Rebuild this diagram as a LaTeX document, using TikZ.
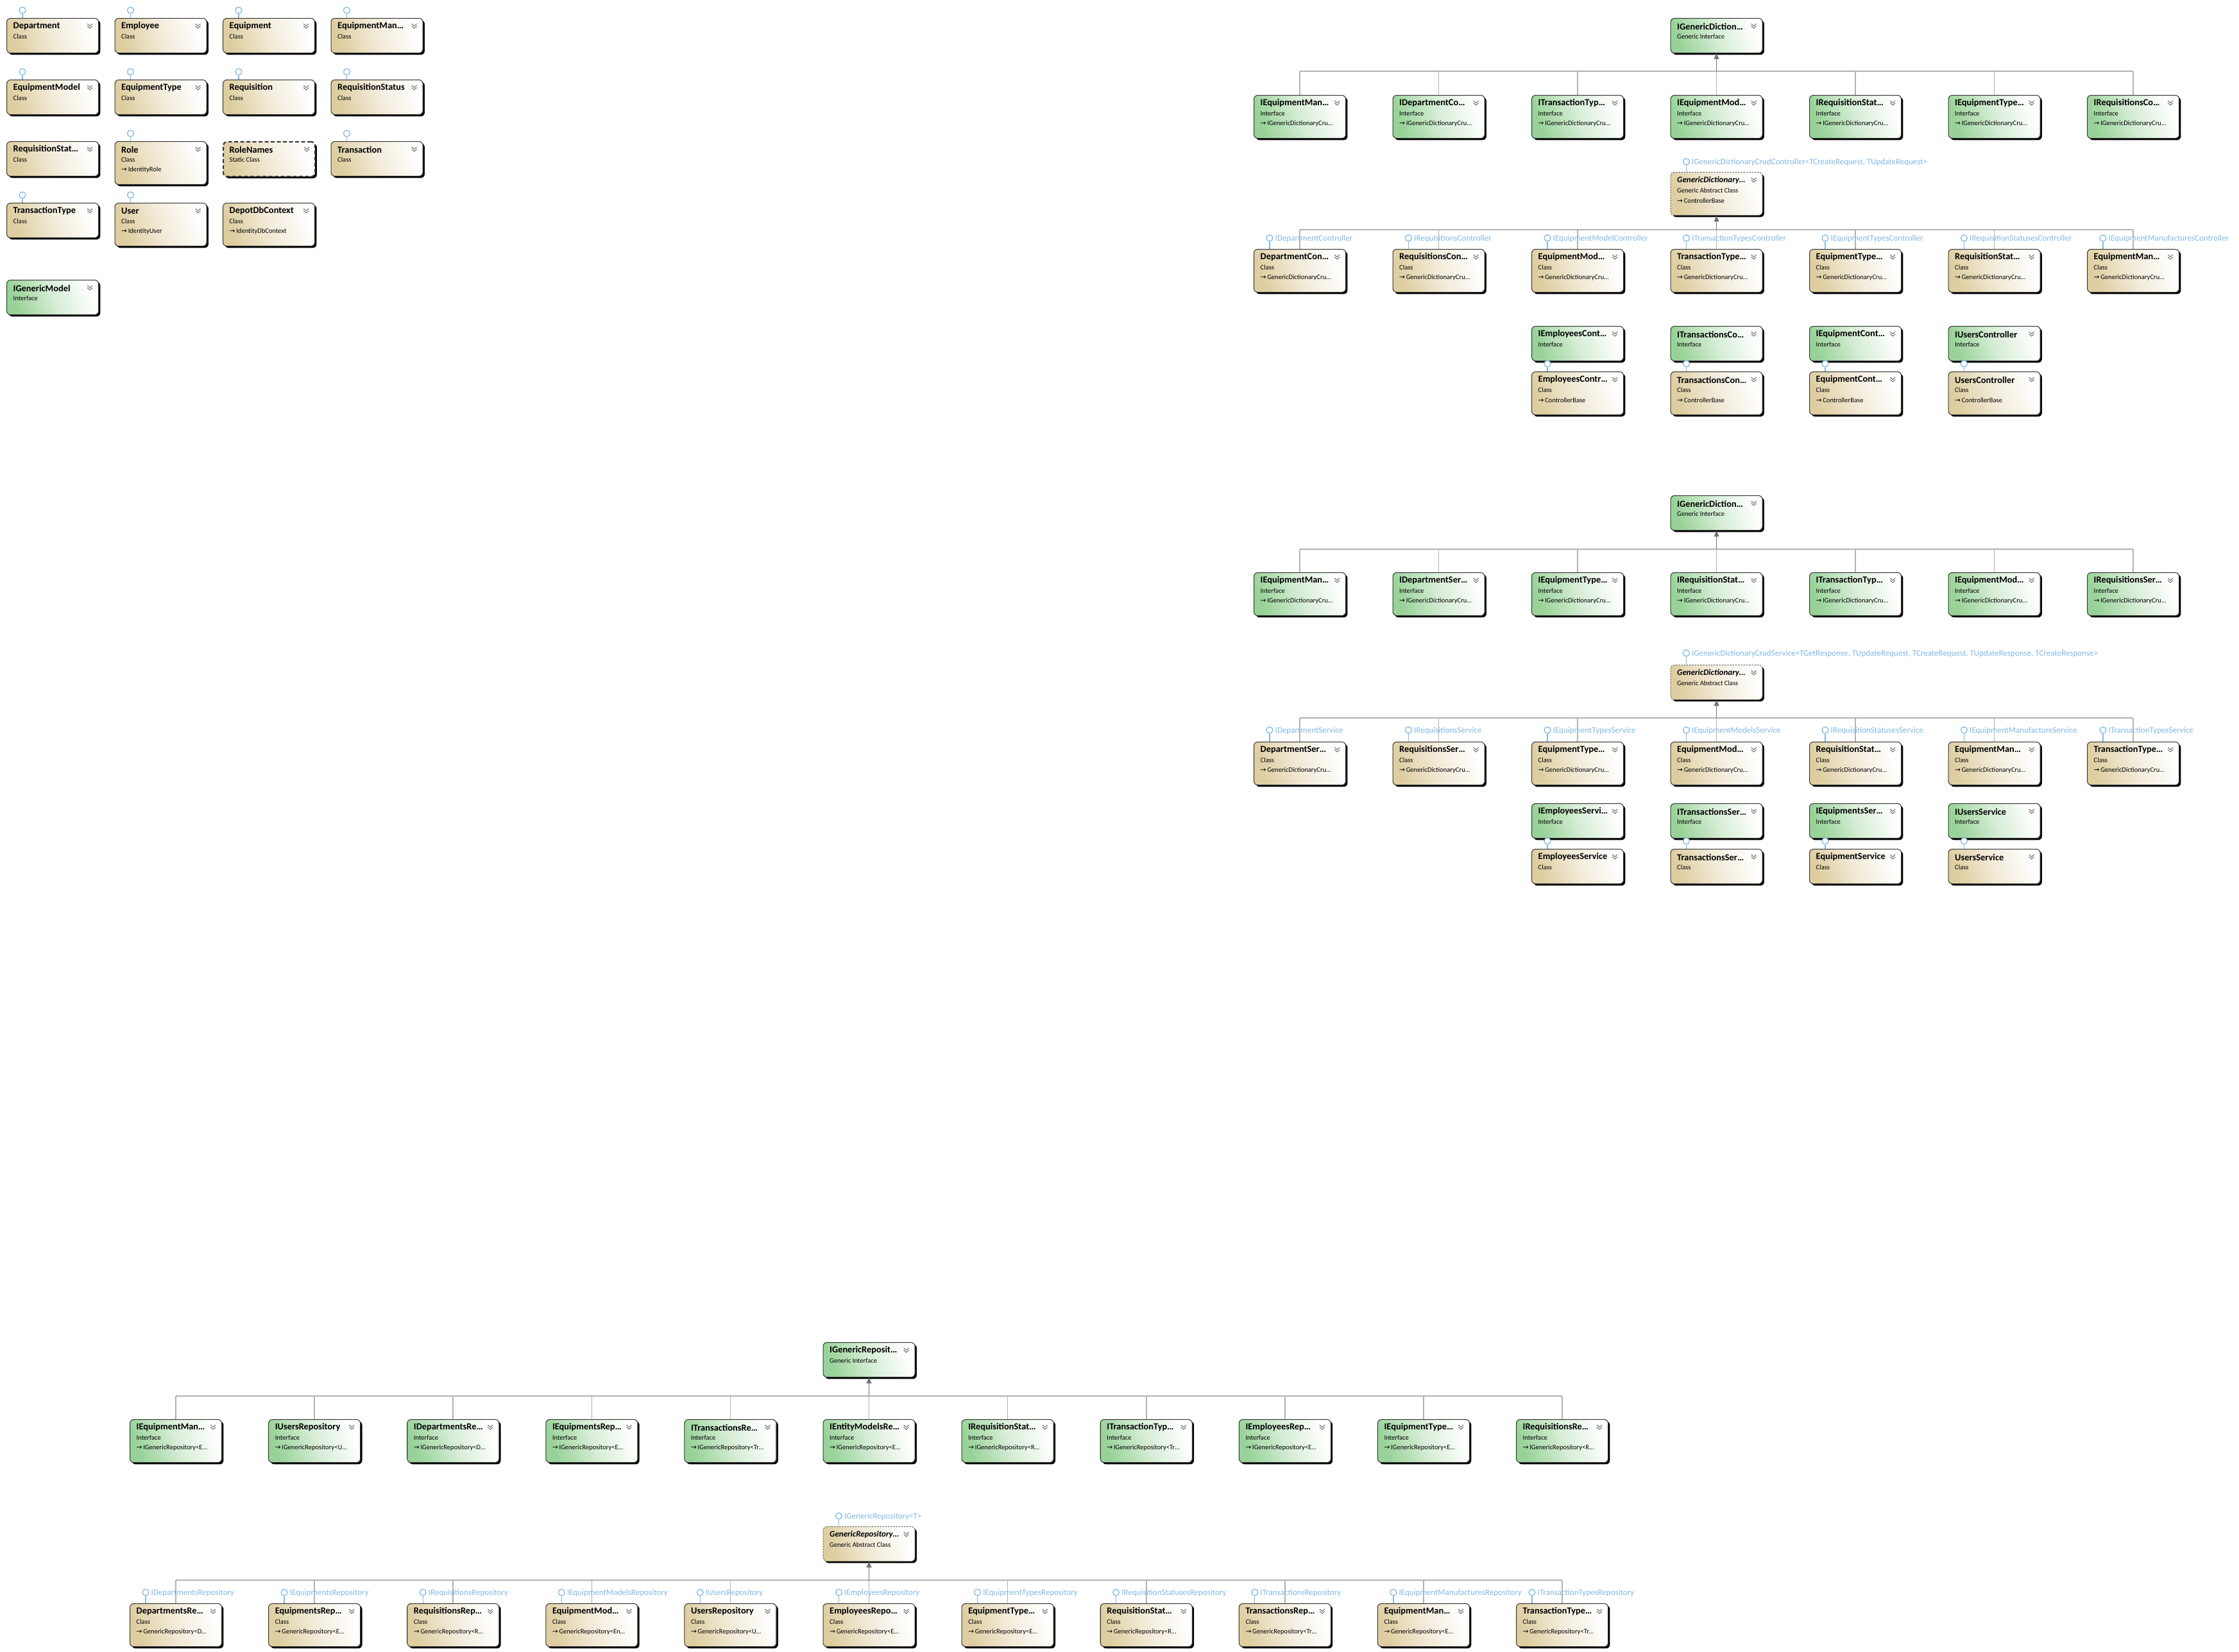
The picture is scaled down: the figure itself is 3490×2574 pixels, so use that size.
\documentclass[tikz,border=0pt]{standalone}
\usepackage{fontspec}
\setmainfont{Carlito}
\newfontfamily\symf{DejaVu Sans}
\usetikzlibrary{arrows.meta,shadows}

\definecolor{clsC}{RGB}{222,205,160}
\definecolor{ifcC}{RGB}{152,210,152}
\definecolor{lolC}{RGB}{128,184,232}
\definecolor{edgeC}{RGB}{55,55,55}

\tikzset{
  ubox/.style={rectangle, rounded corners=1.7pt, draw=edgeC, line width=0.3pt,
    minimum width=1.43cm, anchor=north west, inner sep=0pt,
    drop shadow={shadow xshift=0.8pt, shadow yshift=-0.8pt, opacity=1, fill=black}},
  cls/.style={ubox, left color=clsC, right color=white, middle color=clsC!40, shading angle=110},
  ifc/.style={ubox, left color=ifcC, right color=white, middle color=ifcC!40, shading angle=110},
  abs/.style={cls, draw=black!60, dash pattern=on 0.7pt off 0.5pt},
  stat/.style={cls, draw=black!80, line width=0.6pt, dash pattern=on 1.7pt off 1pt},
  ttl/.style={anchor=west, inner sep=0pt, font=\bfseries\fontsize{4.1}{5}\selectfont},
  knd/.style={anchor=west, inner sep=0pt, font=\fontsize{3}{3.6}\selectfont},
  lbl/.style={anchor=west, inner sep=0pt, text=lolC, font=\fontsize{3.7}{4.4}\selectfont},
  lcirc/.style={circle, draw=lolC, fill=white, line width=0.35pt, minimum size=0.1cm, inner sep=0pt},
  lstem/.style={draw=lolC, line width=0.35pt},
  chev/.style={draw=black!55, line width=0.3pt},
  busln/.style={draw=black!30, line width=0.45pt},
  inh/.style={draw=black!55, line width=0.45pt, -{Triangle[length=2.6pt,width=2.2pt]}},
}
\newcommand{\abst}[1]{{\fontsize{3.7}{5}\selectfont\itshape #1}}

% box: style, name, left, top, title, kind, base type (empty = two lines)
\newcommand{\ubx}[7]{%
  \if\relax\detokenize{#7}\relax
    \node[#1, minimum height=0.54cm] (#2) at (#3,#4) {};
  \else
    \node[#1, minimum height=0.67cm] (#2) at (#3,#4) {};
    \node[knd] at ([shift={(10,45)}]#2.north west) {{\symf →}\,#7};
  \fi
  \node[ttl] at ([shift={(10,13)}]#2.north west) {#5};
  \node[knd] at ([shift={(10,29)}]#2.north west) {#6};
  \draw[chev] ([shift={(-18,9)}]#2.north east) -- ++(4,3.5) -- ++(4,-3.5)
    ++(-8,3.5) -- ++(4,3.5) -- ++(4,-3.5);
}
% interface plug above a box: name, height
\newcommand{\plug}[2]{%
  \node[lcirc] (#1-o) at ([shift={(25,-#2)}]#1.north west) {};
  \draw[lstem] (#1-o) -- (#1-o |- #1.north);
}
% plug with its interface name
\newcommand{\lol}[3]{%
  \plug{#1}{#3}
  \node[lbl] at ([shift={(33,-#3+1)}]#1.north west) {#2};
}

\begin{document}
\begin{tikzpicture}[x=0.01cm,y=-0.01cm]
\fill[white] (0,0) rectangle (3490,2574);
\useasboundingbox (0,0) rectangle (3490,2574);

% --- models
\foreach \t [count=\i from 0] in {Department,Employee,Equipment,EquipmentMan…}{
  \ubx{cls}{ma\i}{10+168.5*\i}{28}{\t}{Class}{}
  \plug{ma\i}{12}}
\foreach \t [count=\i from 0] in {EquipmentModel,EquipmentType,Requisition,RequisitionStatus}{
  \ubx{cls}{mb\i}{10+168.5*\i}{124}{\t}{Class}{}
  \plug{mb\i}{12}}
\ubx{cls}{mc0}{10}{220}{RequisitionStat…}{Class}{}
\ubx{cls}{mc1}{178.5}{220}{Role}{Class}{IdentityRole}
\ubx{stat}{mc2}{347}{220}{RoleNames}{Static Class}{}
\ubx{cls}{mc3}{515.5}{220}{Transaction}{Class}{}
\plug{mc1}{12}
\plug{mc3}{12}
\ubx{cls}{md0}{10}{316}{TransactionType}{Class}{}
\ubx{cls}{md1}{178.5}{316}{User}{Class}{IdentityUser}
\ubx{cls}{md2}{347}{316}{DepotDbContext}{Class}{IdentityDbContext}
\plug{md0}{12}
\plug{md1}{12}
\ubx{ifc}{me0}{10}{436}{IGenericModel}{Interface}{}

% --- controllers
\ubx{ifc}{ctrBase}{2603.5}{28}{IGenericDiction…}{Generic Interface}{}
\foreach \t [count=\i from 0] in {IEquipmentMan…,IDepartmentCo…,ITransactionTyp…,IEquipmentMod…,IRequisitionStat…,IEquipmentType…,IRequisitionsCo…}
  {\ubx{ifc}{ci\i}{1954+216.5*\i}{148}{\t}{Interface}{IGenericDictionaryCru…}}
\coordinate (cbusA) at (0,111);
\draw[busln] (ci0.north |- cbusA) -- (ci6.north |- cbusA);
\foreach \i in {0,...,6} \draw[busln] (ci\i.north) -- (ci\i.north |- cbusA);
\draw[inh] (ci3.north |- cbusA) -- (ctrBase.south);

\ubx{abs}{ctrAbs}{2603.5}{268}{\abst{GenericDictionary…}}{Generic Abstract Class}{ControllerBase}
\lol{ctrAbs}{IGenericDictionaryCrudController<TCreateRequest, TUpdateRequest>}{16}
\foreach \t/\l [count=\i from 0] in {DepartmentCon…/IDepartmentController,RequisitionsCon…/IRequisitionsController,EquipmentMod…/IEquipmentModelController,TransactionType…/ITransactionTypesController,EquipmentType…/IEquipmentTypesController,RequisitionStat…/IRequisitionStatusesController,EquipmentMan…/IEquipmentManufacturesController}
  {\ubx{cls}{cc\i}{1954+216.5*\i}{388}{\t}{Class}{GenericDictionaryCru…}
   \lol{cc\i}{\l}{17}}
\coordinate (cbusB) at (0,358);
\draw[busln] (cc0.north |- cbusB) -- (cc6.north |- cbusB);
\foreach \i in {0,...,6} \draw[busln] (cc\i.north) -- (cc\i.north |- cbusB);
\draw[inh] (cc3.north |- cbusB) -- (ctrAbs.south);

\foreach \a/\c [count=\i from 2] in {IEmployeesCont…/EmployeesContr…,ITransactionsCo…/TransactionsCon…,IEquipmentCont…/EquipmentCont…,IUsersController/UsersController}
  {\ubx{ifc}{cpi\i}{1954+216.5*\i}{508}{\a}{Interface}{}
   \ubx{cls}{cpc\i}{1954+216.5*\i}{579}{\c}{Class}{ControllerBase}
   \plug{cpc\i}{12}}

% --- services
\ubx{ifc}{srvBase}{2603.5}{772}{IGenericDiction…}{Generic Interface}{}
\foreach \t [count=\i from 0] in {IEquipmentMan…,IDepartmentSer…,IEquipmentType…,IRequisitionStat…,ITransactionTyp…,IEquipmentMod…,IRequisitionsSer…}
  {\ubx{ifc}{si\i}{1954+216.5*\i}{892}{\t}{Interface}{IGenericDictionaryCru…}}
\coordinate (sbusA) at (0,856);
\draw[busln] (si0.north |- sbusA) -- (si6.north |- sbusA);
\foreach \i in {0,...,6} \draw[busln] (si\i.north) -- (si\i.north |- sbusA);
\draw[inh] (si3.north |- sbusA) -- (srvBase.south);

\ubx{abs}{srvAbs}{2603.5}{1036}{\abst{GenericDictionary…}}{Generic Abstract Class}{}
\lol{srvAbs}{IGenericDictionaryCrudService<TGetResponse, TUpdateRequest, TCreateRequest, TUpdateResponse, TCreateResponse>}{18}
\foreach \t/\l [count=\i from 0] in {DepartmentSer…/IDepartmentService,RequisitionsSer…/IRequisitionsService,EquipmentType…/IEquipmentTypesService,EquipmentMod…/IEquipmentModelsService,RequisitionStat…/IRequisitionStatusesService,EquipmentMan…/IEquipmentManufactureService,TransactionType…/ITransactionTypesService}
  {\ubx{cls}{sc\i}{1954+216.5*\i}{1156}{\t}{Class}{GenericDictionaryCru…}
   \lol{sc\i}{\l}{18}}
\coordinate (sbusB) at (0,1119);
\draw[busln] (sc0.north |- sbusB) -- (sc6.north |- sbusB);
\foreach \i in {0,...,6} \draw[busln] (sc\i.north) -- (sc\i.north |- sbusB);
\draw[inh] (sc3.north |- sbusB) -- (srvAbs.south);

\foreach \a/\c [count=\i from 2] in {IEmployeesServi…/EmployeesService,ITransactionsSer…/TransactionsSer…,IEquipmentsSer…/EquipmentService,IUsersService/UsersService}
  {\ubx{ifc}{spi\i}{1954+216.5*\i}{1252}{\a}{Interface}{}
   \ubx{cls}{spc\i}{1954+216.5*\i}{1323}{\c}{Class}{}
   \plug{spc\i}{12}}

% --- repositories
\ubx{ifc}{repBase}{1282.5}{2092}{IGenericReposit…}{Generic Interface}{}
\foreach \t/\b [count=\i from 0] in {IEquipmentMan…/E…,IUsersRepository/U…,IDepartmentsRe…/D…,IEquipmentsRep…/E…,ITransactionsRe…/Tr…,IEntityModelsRe…/E…,IRequisitionStat…/R…,ITransactionTyp…/Tr…,IEmployeesRep…/E…,IEquipmentType…/E…,IRequisitionsRe…/R…}
  {\ubx{ifc}{ri\i}{202+216.1*\i}{2212}{\t}{Interface}{IGenericRepository<\b}}
\coordinate (rbusA) at (0,2176);
\draw[busln] (ri0.north |- rbusA) -- (ri10.north |- rbusA);
\foreach \i in {0,...,10} \draw[busln] (ri\i.north) -- (ri\i.north |- rbusA);
\draw[inh] (ri5.north |- rbusA) -- (repBase.south);

\ubx{abs}{repAbs}{1282.5}{2379}{\abst{GenericRepository…}}{Generic Abstract Class}{}
\lol{repAbs}{IGenericRepository<T>}{16}
\foreach \t/\b/\l [count=\i from 0] in {DepartmentsRe…/D…/IDepartmentsRepository,EquipmentsRep…/E…/IEquipmentsRepository,RequisitionsRep…/R…/IRequisitionsRepository,EquipmentMod…/En…/IEquipmentModelsRepository,UsersRepository/U…/IUsersRepository,EmployeesRepo…/E…/IEmployeesRepository,EquipmentType…/E…/IEquipmentTypesRepository,RequisitionStat…/R…/IRequisitionStatusesRepository,TransactionsRep…/Tr…/ITransactionsRepository,EquipmentMan…/E…/IEquipmentManufacturesRepository,TransactionType…/Tr…/ITransactionTypesRepository}
  {\ubx{cls}{rc\i}{202+216.1*\i}{2499}{\t}{Class}{GenericRepository<\b}
   \lol{rc\i}{\l}{17}}
\coordinate (rbusB) at (0,2463);
\draw[busln] (rc0.north |- rbusB) -- (rc10.north |- rbusB);
\foreach \i in {0,...,10} \draw[busln] (rc\i.north) -- (rc\i.north |- rbusB);
\draw[inh] (rc5.north |- rbusB) -- (repAbs.south);
\end{tikzpicture}
\end{document}
